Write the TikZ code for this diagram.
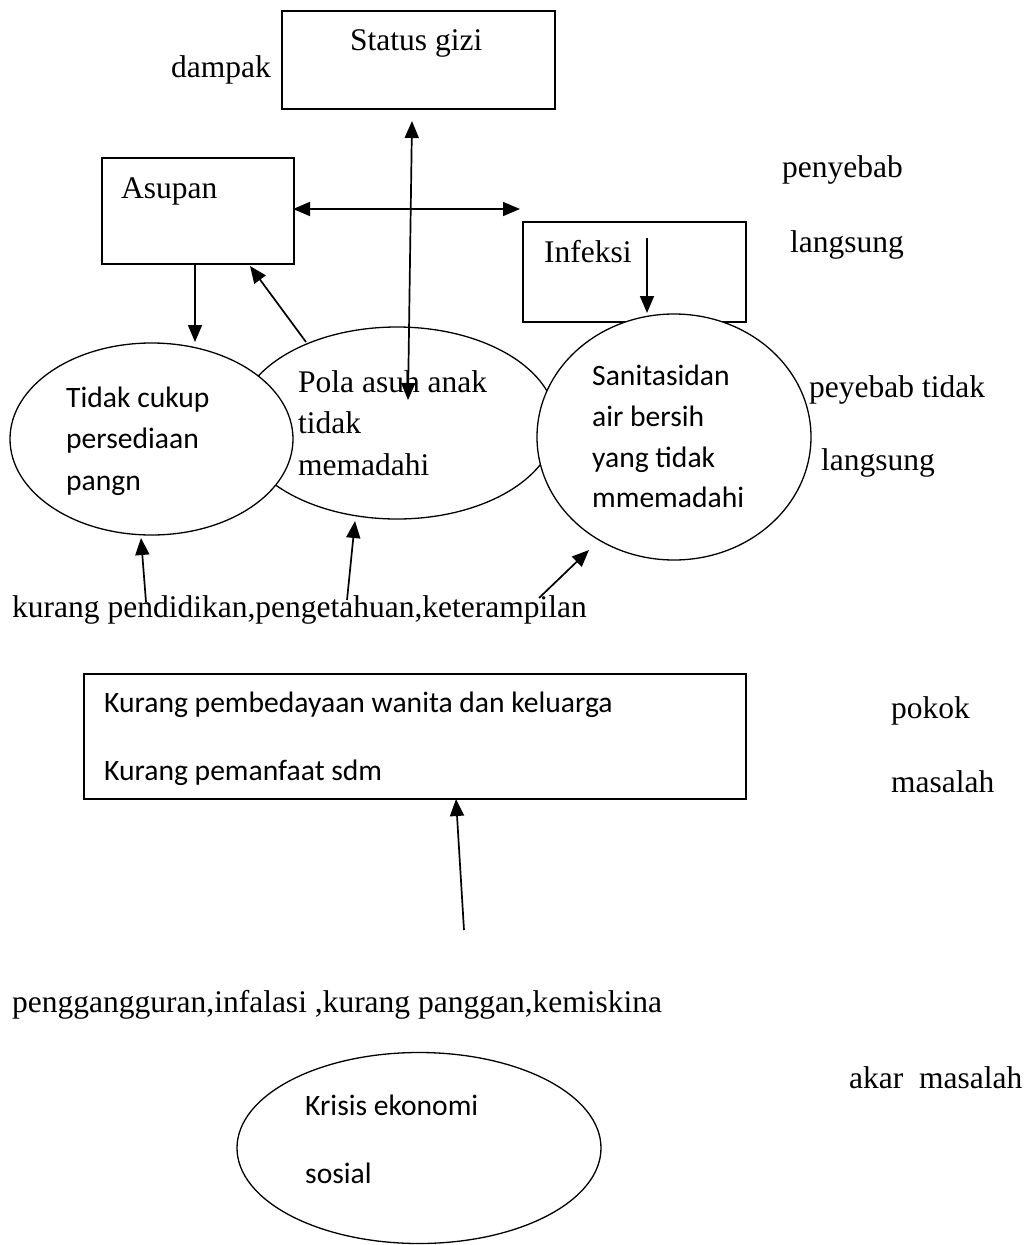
\documentclass[tikz,border=0pt]{standalone}
\usepackage{fontspec}
\setmainfont{Liberation Serif}
\newfontfamily\calfont{Carlito}
\usetikzlibrary{shapes.geometric,arrows.meta}
\tikzset{
  boxnode/.style={draw,line width=1.5pt,inner sep=0pt,anchor=north west},
  ell/.style={ellipse,draw,fill=white,line width=1.3pt,inner sep=0pt},
  sertxt/.style={inner sep=0pt,anchor=base west,font=\fontsize{31.5}{36}\selectfont},
  santxt/.style={inner sep=0pt,anchor=base west,font=\calfont\fontsize{29.6}{36}\selectfont},
  arr/.style={line width=1.7pt,-{Triangle[length=17pt,width=14pt]}},
  darr/.style={line width=1.7pt,{Triangle[length=17pt,width=14pt]}-{Triangle[length=17pt,width=14pt]}}
}
\begin{document}
\begin{tikzpicture}[x=1pt,y=-1pt]
\useasboundingbox (0,0) rectangle (1031,1245);
% boxes
\node[boxnode,minimum width=273pt,minimum height=98pt] (status) at (281,10) {};
\node[boxnode,minimum width=192pt,minimum height=106pt] (asupan) at (101,157) {};
\node[boxnode,minimum width=223pt,minimum height=100pt] (infeksi) at (522,221) {};
\node[boxnode,minimum width=662pt,minimum height=125pt] (pokok) at (83,673) {};
% ellipses
\node[ell,minimum width=318pt,minimum height=192pt] (pola) at (397,423) {};
\node[ell,minimum width=283pt,minimum height=192pt] (tidak) at (151.5,439) {};
\node[ell,minimum width=274pt,minimum height=246pt] (sanit) at (674,437) {};
\node[ell,minimum width=364pt,minimum height=191pt] (krisis) at (419,1148) {};
% texts
\node[sertxt] (tstatus) at (350,50) {Status gizi};
\node[sertxt] (tdampak) at (171,77) {dampak};
\node[sertxt] (tasupan) at (121,198) {Asupan};
\node[sertxt] (tinfeksi) at (544,262) {Infeksi};
\node[sertxt] (tpenyebab) at (782,177) {penyebab};
\node[sertxt] (tlangsung1) at (790,252) {langsung};
\node[santxt] (ttidak1) at (66,407) {Tidak cukup};
\node[santxt] (ttidak2) at (66,448) {persediaan};
\node[santxt] (ttidak3) at (66,490) {pangn};
\node[sertxt] (tpola1) at (298,392) {Pola asuh anak};
\node[sertxt] (tpola2) at (298,433) {tidak};
\node[sertxt] (tpola3) at (298,475) {memadahi};
\node[santxt] (tsan1) at (592,385) {Sanitasidan};
\node[santxt] (tsan2) at (592,426) {air bersih};
\node[santxt] (tsan3) at (592,467) {yang tidak};
\node[santxt] (tsan4) at (592,507) {mmemadahi};
\node[sertxt] (tpeyebab) at (809,397) {peyebab tidak};
\node[sertxt] (tlangsung2) at (821,470) {langsung};
\node[sertxt] (tkurang) at (12,617) {kurang pendidikan,pengetahuan,keterampilan};
\node[santxt] (tpok1) at (104,712) {Kurang pembedayaan wanita dan keluarga};
\node[santxt] (tpok2) at (104,780) {Kurang pemanfaat sdm};
\node[sertxt] (tpokok) at (891,718) {pokok};
\node[sertxt] (tmasalah) at (891,792) {masalah};
\node[sertxt] (tpeng) at (12,1012) {penggangguran,infalasi ,kurang panggan,kemiskina};
\node[sertxt] (takar) at (849,1088) {akar\ \ masalah};
\node[santxt] (tkrisis1) at (305,1115) {Krisis ekonomi};
\node[santxt] (tkrisis2) at (305,1183) {sosial};
% connector coordinates
\coordinate (vtop) at (412,121);
\coordinate (vbot) at (408,400);
\coordinate (hleft) at (293,209);
\coordinate (hright) at (520,209);
\coordinate (asdown1) at (195,263);
\coordinate (asdown2) at (195,342);
\coordinate (polaup1) at (306,342);
\coordinate (polaup2) at (250,266);
\coordinate (inf1) at (647,238);
\coordinate (inf2) at (647,313);
\coordinate (b1s) at (146,602);
\coordinate (b1e) at (141,538);
\coordinate (b2s) at (347,600);
\coordinate (b2e) at (355,521);
\coordinate (b3s) at (539,598);
\coordinate (b3e) at (589,550);
\coordinate (c1s) at (464,930);
\coordinate (c1e) at (456,799);
% connectors
\draw[darr] (vbot) -- (vtop);
\draw[darr] (hleft) -- (hright);
\draw[arr] (asdown1) -- (asdown2);
\draw[arr] (polaup1) -- (polaup2);
\draw[arr] (inf1) -- (inf2);
\draw[arr] (b1s) -- (b1e);
\draw[arr] (b2s) -- (b2e);
\draw[arr] (b3s) -- (b3e);
\draw[arr] (c1s) -- (c1e);
\end{tikzpicture}
\end{document}
